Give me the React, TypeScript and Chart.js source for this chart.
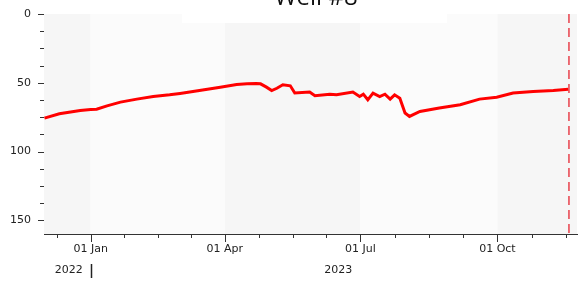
import React, { useEffect, useRef } from "react";
import { Chart, registerables } from "chart.js";

Chart.register(...registerables);

// Days relative to 01 Jan (day 0)
const days = [-31, -21, -7, 0, 4, 11, 20, 31, 42, 53, 60, 73, 87, 98, 105, 111, 114, 118, 121.5, 125, 129, 134, 137, 147, 150.5, 160.5, 165, 176, 180.5, 183, 186, 189.5, 194, 197.5, 201, 204, 207.5, 211, 214, 221, 234, 248, 261, 272.5, 283.5, 297, 310.5, 320.5];
const levels = [75.7, 72.6, 70.2, 69.5, 69.2, 66.8, 64.1, 61.9, 60.0, 58.8, 57.8, 55.7, 53.2, 51.3, 50.8, 50.6, 50.8, 53.2, 55.7, 54.0, 51.5, 52.2, 57.5, 56.8, 59.5, 58.3, 58.8, 56.8, 60.0, 58.3, 62.4, 57.5, 60.0, 58.3, 61.9, 58.8, 61.2, 72.0, 74.5, 70.9, 68.4, 66.0, 61.9, 60.5, 57.5, 56.4, 55.7, 54.7];

const markerDay = 321;
const xMin = -31.3;
const xMax = 326.4;
const xLabelDays = [0, 90, 181, 273];
const xLabels = ["01 Jan", "01 Apr", "01 Jul", "01 Oct"];
const xTickDays = [-22.5, 0, 22.5, 45, 67.5, 90, 112.75, 135.5, 158.25, 181, 204, 227, 250, 273, 296, 319];
const yearLabels = ["2022", "2023"];
const yearDays = [0, 181];
const yTickValues = [0, 12.5, 25, 37.5, 50, 62.5, 75, 87.5, 100, 112.5, 125, 137.5, 150];
const yMax = 160;
const bandDays = [xMin, 0, 90, 181, 273, xMax];
const titleText = "Well #8";

const FONT = '"DejaVu Sans", sans-serif';

const decorPlugin = {
  id: "decor",
  beforeDatasetsDraw(chart: any) {
    const { ctx, chartArea, scales } = chart;
    const xs = scales.x;
    ctx.save();
    for (let i = 0; i < bandDays.length - 1; i++) {
      const a = xs.getPixelForValue(bandDays[i]);
      const b = xs.getPixelForValue(bandDays[i + 1]);
      ctx.fillStyle = i % 2 === 0 ? "#f6f6f6" : "#fbfbfb";
      ctx.fillRect(a, chartArea.top, b - a, chartArea.bottom - chartArea.top);
    }
    // title box
    ctx.fillStyle = "#ffffff";
    ctx.fillRect(182, 0, 265, 23);
    ctx.restore();
  },
  afterDraw(chart: any) {
    const { ctx, chartArea, scales } = chart;
    const xs = scales.x;
    const ys = scales.y;
    ctx.save();
    ctx.strokeStyle = "#333";
    ctx.lineWidth = 1;
    ctx.beginPath();
    yTickValues.forEach((v) => {
      const py = Math.round(ys.getPixelForValue(v)) + 0.5;
      const major = v % 50 === 0;
      ctx.moveTo(chartArea.left - (major ? 6 : 4), py);
      ctx.lineTo(chartArea.left, py);
    });
    xTickDays.forEach((d) => {
      const px = Math.round(xs.getPixelForValue(d)) + 0.5;
      const major = xLabelDays.includes(d);
      ctx.moveTo(px, chartArea.bottom);
      ctx.lineTo(px, chartArea.bottom + (major ? 8 : 4));
    });
    ctx.stroke();
    // year labels
    ctx.fillStyle = "#222";
    ctx.font = "11px " + FONT;
    ctx.textBaseline = "middle";
    ctx.textAlign = "right";
    yearLabels.forEach((t, i) => {
      const px = xs.getPixelForValue(yearDays[i]);
      ctx.fillText(t, px - 8, 270);
    });
    const p0 = Math.round(xs.getPixelForValue(yearDays[0])) + 0.5;
    ctx.beginPath();
    ctx.strokeStyle = "#222";
    ctx.lineWidth = 1.5;
    ctx.moveTo(p0, 264);
    ctx.lineTo(p0, 278);
    ctx.stroke();
    // title
    ctx.fillStyle = "#111";
    ctx.font = '24px "Open Sans", sans-serif';
    ctx.textAlign = "center";
    ctx.textBaseline = "alphabetic";
    ctx.fillText(titleText, 316, 5);
    ctx.restore();
  },
};

export default function App() {
  const ref = useRef<HTMLCanvasElement>(null);
  useEffect(() => {
    if (!ref.current) return;
    const chart = new Chart(ref.current, {
      type: "line",
      data: {
        datasets: [
          {
            data: days.map((d, i) => ({ x: d, y: levels[i] })),
            borderColor: "#ff0000",
            borderWidth: 3,
            pointRadius: 0,
            tension: 0,
            fill: false,
          },
          {
            data: [
              { x: markerDay, y: 0 },
              { x: markerDay, y: yMax },
            ],
            borderColor: "#e8414b",
            borderWidth: 1.5,
            borderDash: [9, 5],
            pointRadius: 0,
            fill: false,
          },
        ],
      },
      options: {
        animation: false,
        responsive: false,
        devicePixelRatio: 1,
        layout: { autoPadding: false, padding: { top: 14, right: 1, left: 0, bottom: 0 } },
        plugins: { legend: { display: false }, tooltip: { enabled: false }, title: { display: false } },
        scales: {
          x: {
            type: "linear",
            min: xMin,
            max: xMax,
            grid: { display: false },
            border: { display: true, color: "#333", width: 1 },
            afterBuildTicks: (s: any) => {
              s.ticks = xLabelDays.map((v) => ({ value: v }));
            },
            afterFit: (s: any) => {
              s.height = 47;
              s.paddingLeft = 0;
              s.paddingRight = 0;
            },
            ticks: {
              autoSkip: false,
              maxRotation: 0,
              padding: 1,
              color: "#222",
              font: { family: FONT, size: 11 },
              callback: (v: any) => {
                const i = xLabelDays.indexOf(Number(v));
                return i >= 0 ? xLabels[i] : "";
              },
            },
          },
          y: {
            type: "linear",
            reverse: true,
            min: 0,
            max: yMax,
            grid: { display: false },
            border: { display: true, color: "#333", width: 1 },
            afterBuildTicks: (s: any) => {
              s.ticks = yTickValues.map((v) => ({ value: v }));
            },
            afterFit: (s: any) => {
              s.width = 44;
              s.paddingTop = 0;
              s.paddingBottom = 0;
            },
            ticks: {
              autoSkip: false,
              padding: 5,
              color: "#222",
              font: { family: FONT, size: 11 },
              callback: (v: any) => (Number(v) % 50 === 0 ? String(v) : ""),
            },
          },
        },
      },
      plugins: [decorPlugin],
    });
    return () => chart.destroy();
  }, []);
  return (
    <div style={{ position: "absolute", left: 0, top: 0, width: 578, height: 281 }}>
      <canvas ref={ref} width={578} height={281} style={{ width: 578, height: 281 }} />
    </div>
  );
}
